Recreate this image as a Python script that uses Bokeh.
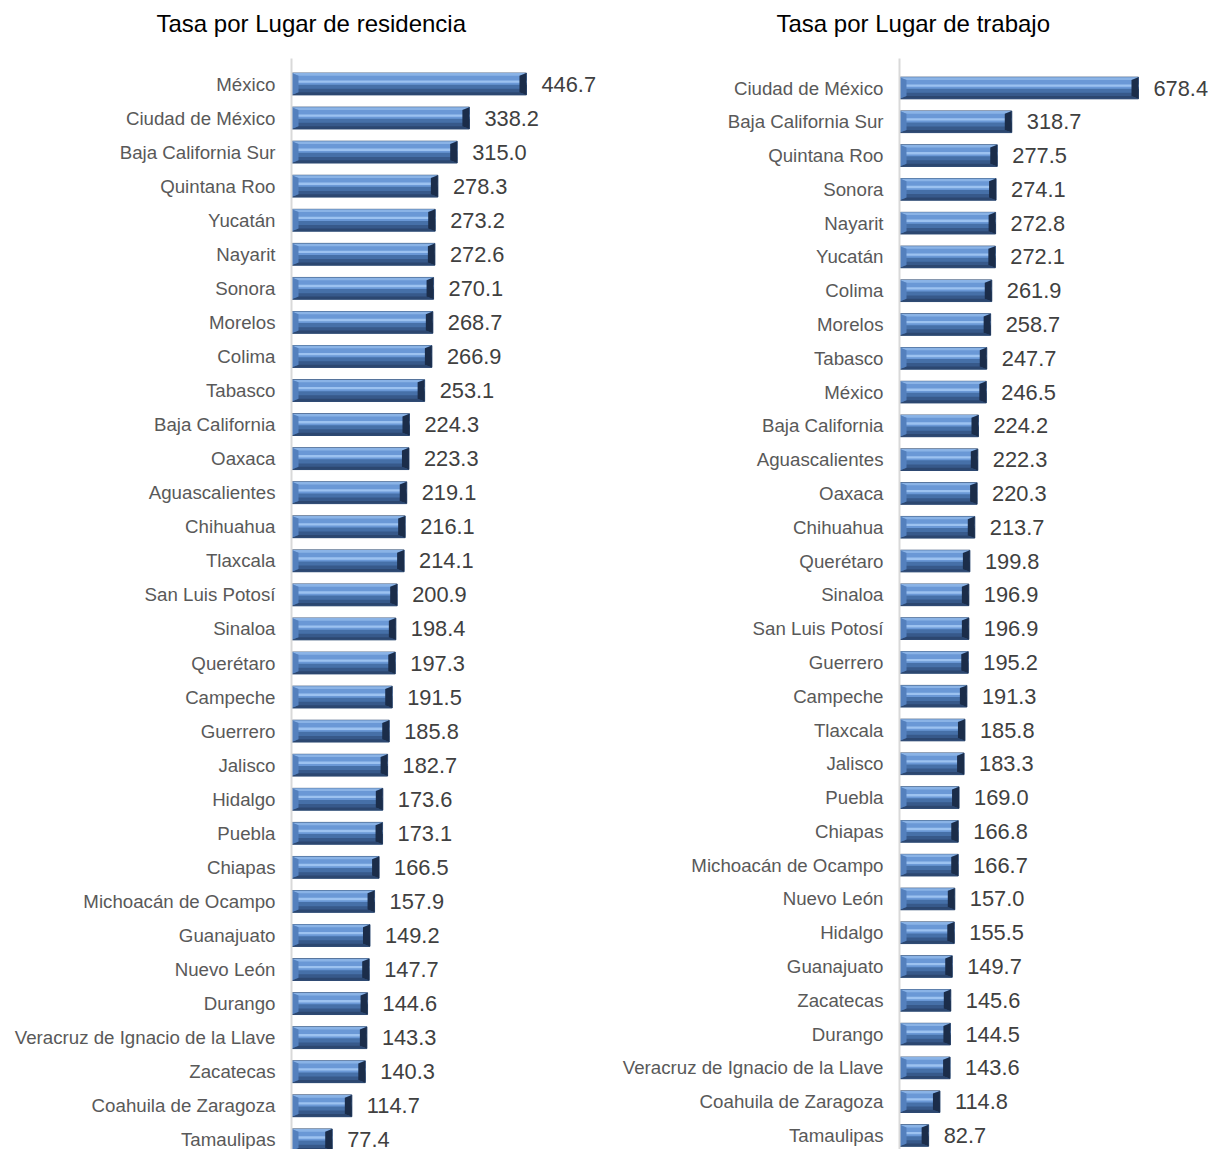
from bokeh.plotting import figure
from bokeh.layouts import row
from bokeh.models import Range1d, FixedTicker, Title, ColumnDataSource
from bokeh.core.properties import value
from bokeh.embed import file_html
from bokeh.resources import INLINE

res_states = ["México", "Ciudad de México", "Baja California Sur", "Quintana Roo", "Yucatán",
              "Nayarit", "Sonora", "Morelos", "Colima", "Tabasco", "Baja California", "Oaxaca",
              "Aguascalientes", "Chihuahua", "Tlaxcala", "San Luis Potosí", "Sinaloa", "Querétaro",
              "Campeche", "Guerrero", "Jalisco", "Hidalgo", "Puebla", "Chiapas",
              "Michoacán de Ocampo", "Guanajuato", "Nuevo León", "Durango",
              "Veracruz de Ignacio de la Llave", "Zacatecas", "Coahuila de Zaragoza", "Tamaulipas"]
res_values = [446.7, 338.2, 315.0, 278.3, 273.2, 272.6, 270.1, 268.7, 266.9, 253.1, 224.3, 223.3,
              219.1, 216.1, 214.1, 200.9, 198.4, 197.3, 191.5, 185.8, 182.7, 173.6, 173.1, 166.5,
              157.9, 149.2, 147.7, 144.6, 143.3, 140.3, 114.7, 77.4]

work_states = ["Ciudad de México", "Baja California Sur", "Quintana Roo", "Sonora", "Nayarit",
               "Yucatán", "Colima", "Morelos", "Tabasco", "México", "Baja California",
               "Aguascalientes", "Oaxaca", "Chihuahua", "Querétaro", "Sinaloa", "San Luis Potosí",
               "Guerrero", "Campeche", "Tlaxcala", "Jalisco", "Puebla", "Chiapas",
               "Michoacán de Ocampo", "Nuevo León", "Hidalgo", "Guanajuato", "Zacatecas",
               "Durango", "Veracruz de Ignacio de la Llave", "Coahuila de Zaragoza", "Tamaulipas"]
work_values = [678.4, 318.7, 277.5, 274.1, 272.8, 272.1, 261.9, 258.7, 247.7, 246.5, 224.2, 222.3,
               220.3, 213.7, 199.8, 196.9, 196.9, 195.2, 191.3, 185.8, 183.3, 169.0, 166.8, 166.7,
               157.0, 155.5, 149.7, 145.6, 144.5, 143.6, 114.8, 82.7]

titles = ["Tasa por Lugar de residencia", "Tasa por Lugar de trabajo"]

FONT = "Liberation Sans"
FIG_H = 1149
TOP = 58


def make_chart(states, vals, title, width, border_left, x_end, y_top, y_bottom, title_offset):
    n = len(states)
    p = figure(width=width, height=FIG_H, output_backend="svg", toolbar_location=None,
               x_range=Range1d(0, x_end), y_range=Range1d(y_bottom, y_top),
               min_border_left=border_left, min_border_right=0, min_border_bottom=0,
               min_border_top=0, outline_line_color=None)
    # spacer (nearest the frame), then the visible title above it
    p.add_layout(Title(text=" ", text_font=FONT, text_font_size="4px", standoff=4), "above")
    p.add_layout(Title(text=title, align="left", offset=title_offset, text_font=FONT,
                       text_font_size="24px", text_font_style="normal", text_color="#000000",
                       vertical_align="top", standoff=18), "above")
    p.xaxis.visible = False
    p.xgrid.visible = False
    p.ygrid.visible = False
    ax = p.yaxis[0]
    ax.ticker = FixedTicker(ticks=list(range(n)))
    ax.major_label_overrides = {i: s for i, s in enumerate(states)}
    ax.major_tick_line_color = None
    ax.minor_tick_line_color = None
    ax.major_tick_out = 0
    ax.major_tick_in = 0
    ax.minor_tick_out = 0
    ax.axis_line_color = "#D9D9D9"
    ax.axis_line_width = 2
    ax.major_label_standoff = 16
    ax.major_label_text_font = FONT
    ax.major_label_text_font_size = "18.7px"
    ax.major_label_text_color = "#595959"

    ys = list(range(n))
    hh = 0.32
    fw = p.width - border_left
    px_per_unit = fw / x_end
    dx = 7 / px_per_unit
    dy = 0.08
    src = ColumnDataSource(dict(y=ys, v=vals, lab=["%.1f" % v for v in vals]))
    p.hbar(y="y", right="v", left=0, height=2 * hh, source=src,
           fill_color="#4670A8", line_color="#2E4B73", line_width=1)
    p.hbar(y=[y - 0.14 for y in ys], right=vals, left=0, height=0.32,
           fill_color="#6A98D6", line_color=None)
    p.hbar(y=[y - 0.07 for y in ys], right=vals, left=0, height=0.07,
           fill_color="#9CC2F0", line_color=None)
    p.hbar(y=[y + 0.2 for y in ys], right=vals, left=0, height=0.12,
           fill_color="#37598A", line_color=None)

    top_x, top_y, bot_x, bot_y, lx, ly, rx, ry = [], [], [], [], [], [], [], []
    for y, v in zip(ys, vals):
        top_x.append([0, v, v - dx, dx]); top_y.append([y - hh, y - hh, y - hh + dy, y - hh + dy])
        bot_x.append([0, v, v - dx, dx]); bot_y.append([y + hh, y + hh, y + hh - dy, y + hh - dy])
        lx.append([0, dx, dx, 0]); ly.append([y - hh, y - hh + dy, y + hh - dy, y + hh])
        rx.append([v, v - dx, v - dx, v]); ry.append([y - hh, y - hh + dy, y + hh - dy, y + hh])
    p.patches(top_x, top_y, fill_color="#8AB3E6", line_color=None)
    p.patches(bot_x, bot_y, fill_color="#2C4770", line_color=None)
    p.patches(lx, ly, fill_color="#5480BD", line_color=None)
    p.patches(rx, ry, fill_color="#1B2D4A", line_color=None)

    p.text(x="v", y="y", text="lab", source=src, x_offset=15, text_baseline="middle",
           text_align="left", text_font=value(FONT), text_font_size="21.8px", text_color="#404040")
    return p


# left: axis at page x 291, 0.526 px/unit; rows at 83.5 + 34.06*i
p1 = make_chart(res_states, res_values, titles[0], 608, 291, 317 / 0.526,
                (TOP - 83.5) / 34.06, (FIG_H - 83.5) / 34.06, -135)
# right: axis at page x 899, 0.3523 px/unit; rows at 87.5 + 33.79*i
p2 = make_chart(work_states, work_values, titles[1], 600, 291, 309 / 0.3523,
                (TOP - 87.5) / 33.79, (FIG_H - 87.5) / 33.79, -123)

layout = row(p1, p2)
open("out.html", "w").write(file_html(layout, INLINE))
